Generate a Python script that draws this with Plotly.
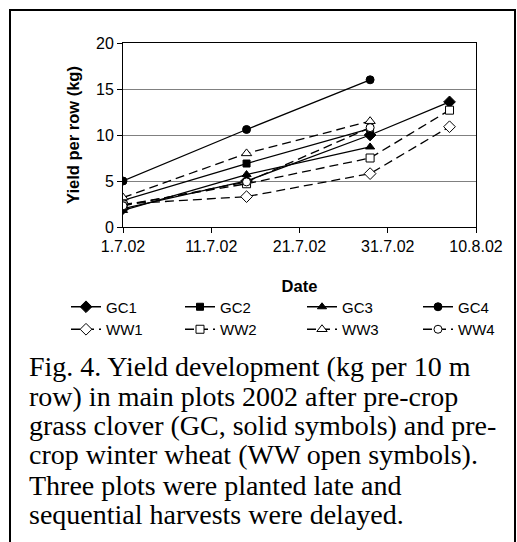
import plotly.graph_objects as go

# Sampling dates (2002)
dates = ["2002-07-01", "2002-07-15", "2002-07-29", "2002-08-07"]

# Yield per 10 m row (kg), pre-crop grass clover
gc1 = [2.0, 5.0, 10.0, 13.6]
gc2 = [2.9, 6.9, 10.7]
gc3 = [1.8, 5.7, 8.7]
gc4 = [5.0, 10.6, 16.0]

# Yield per 10 m row (kg), pre-crop winter wheat
ww1 = [2.5, 3.3, 5.8, 10.9]
ww2 = [2.4, 4.7, 7.5, 12.7]
ww3 = [3.2, 8.0, 11.5]
ww4 = [2.3, 4.9, 10.8]

x_tickvals = ["2002-07-01", "2002-07-11", "2002-07-21", "2002-07-31", "2002-08-10"]
x_ticktext = ["1.7.02", "11.7.02", "21.7.02", "31.7.02", "10.8.02"]
y_tickvals = [0, 5, 10, 15, 20]

caption_lines = [
    "Fig. 4. Yield development (kg per 10 m",
    "row) in main plots 2002 after pre-crop",
    "grass clover (GC, solid symbols) and pre-",
    "crop winter wheat (WW open symbols).",
    "Three plots were planted late and",
    "sequential harvests were delayed.",
]

# (name, values, symbol, fill, dash, size, legend column)
series = [
    ("GC1", gc1, "diamond", "black", "solid", 9, "legend"),
    ("GC2", gc2, "square", "black", "solid", 7, "legend2"),
    ("GC3", gc3, "triangle-up", "black", "solid", 8, "legend3"),
    ("GC4", gc4, "circle", "black", "solid", 8, "legend4"),
    ("WW1", ww1, "diamond", "white", "9px,5px", 9, "legend"),
    ("WW2", ww2, "square", "white", "9px,5px", 8, "legend2"),
    ("WW3", ww3, "triangle-up", "white", "9px,5px", 9, "legend3"),
    ("WW4", ww4, "circle", "white", "9px,5px", 8, "legend4"),
]

fig = go.Figure()
for name, vals, sym, fill, dash, size, leg in series:
    fig.add_trace(go.Scatter(
        x=dates[:len(vals)], y=vals, name=name, mode="lines+markers",
        line=dict(color="black", width=1.3, dash=dash),
        marker=dict(symbol=sym, size=size, color=fill,
                    line=dict(color="black", width=1)),
        legend=leg,
    ))

# plot-area geometry in pixels, used to place frame, legends and caption
W, H = 517, 542
L, R, T, B = 123, 41, 43, 315
pw, ph = W - L - R, H - T - B

def px(xp):
    return (xp - L) / pw

def py(yp):
    return (H - B - yp) / ph

sans = "Liberation Sans, Arial, sans-serif"
tick_font = dict(family=sans, size=16, color="black")
title_font = dict(family=sans, size=16.5, color="black")
legend_font = dict(family=sans, size=15, color="black")

# one small two-row legend per column (GC above WW)
legend_cols = [66, 180, 302, 418]
legend_layout = {}
for i, xcol in enumerate(legend_cols):
    key = "legend" if i == 0 else f"legend{i + 1}"
    legend_layout[key] = dict(
        orientation="v", x=px(xcol), xanchor="left", y=py(318), yanchor="middle",
        font=legend_font, bgcolor="rgba(0,0,0,0)", tracegroupgap=0,
    )

fig.update_layout(
    width=W, height=H,
    margin=dict(l=L, r=R, t=T, b=B),
    paper_bgcolor="white", plot_bgcolor="white",
    font=tick_font,
    xaxis=dict(
        type="date", range=["2002-07-01", "2002-08-10"],
        tickvals=x_tickvals, ticktext=x_ticktext, tickfont=tick_font,
        ticks="outside", ticklen=5, tickcolor="black",
        showline=True, linecolor="black", linewidth=1, mirror=True,
        showgrid=False, zeroline=False,
        title=dict(text="<b>Date</b>", standoff=26, font=title_font),
    ),
    yaxis=dict(
        range=[0, 20], tickvals=y_tickvals, tickfont=tick_font,
        ticks="outside", ticklen=5, tickcolor="black",
        showline=True, linecolor="black", linewidth=1, mirror=True,
        showgrid=True, gridcolor="#808080", gridwidth=1, zeroline=False,
        title=dict(text="<b>Yield per row (kg)</b>", standoff=12, font=title_font),
    ),
    showlegend=True,
    **legend_layout,
)

# caption, one annotation per line so the leading stays tight
baselines = [375, 405, 434, 464, 494, 523]
for text, base in zip(caption_lines, baselines):
    fig.add_annotation(
        text=text, xref="paper", yref="paper", x=px(27), y=py(base - 9),
        xanchor="left", yanchor="middle", align="left", showarrow=False,
        font=dict(family="Liberation Serif, Times New Roman, serif", size=28, color="black"),
    )

# outer frame around figure and caption
fig.add_shape(type="rect", xref="paper", yref="paper",
              x0=px(10), x1=px(515), y0=py(548), y1=py(10),
              line=dict(color="black", width=2), fillcolor="rgba(0,0,0,0)")

fig.write_html("out.html")
